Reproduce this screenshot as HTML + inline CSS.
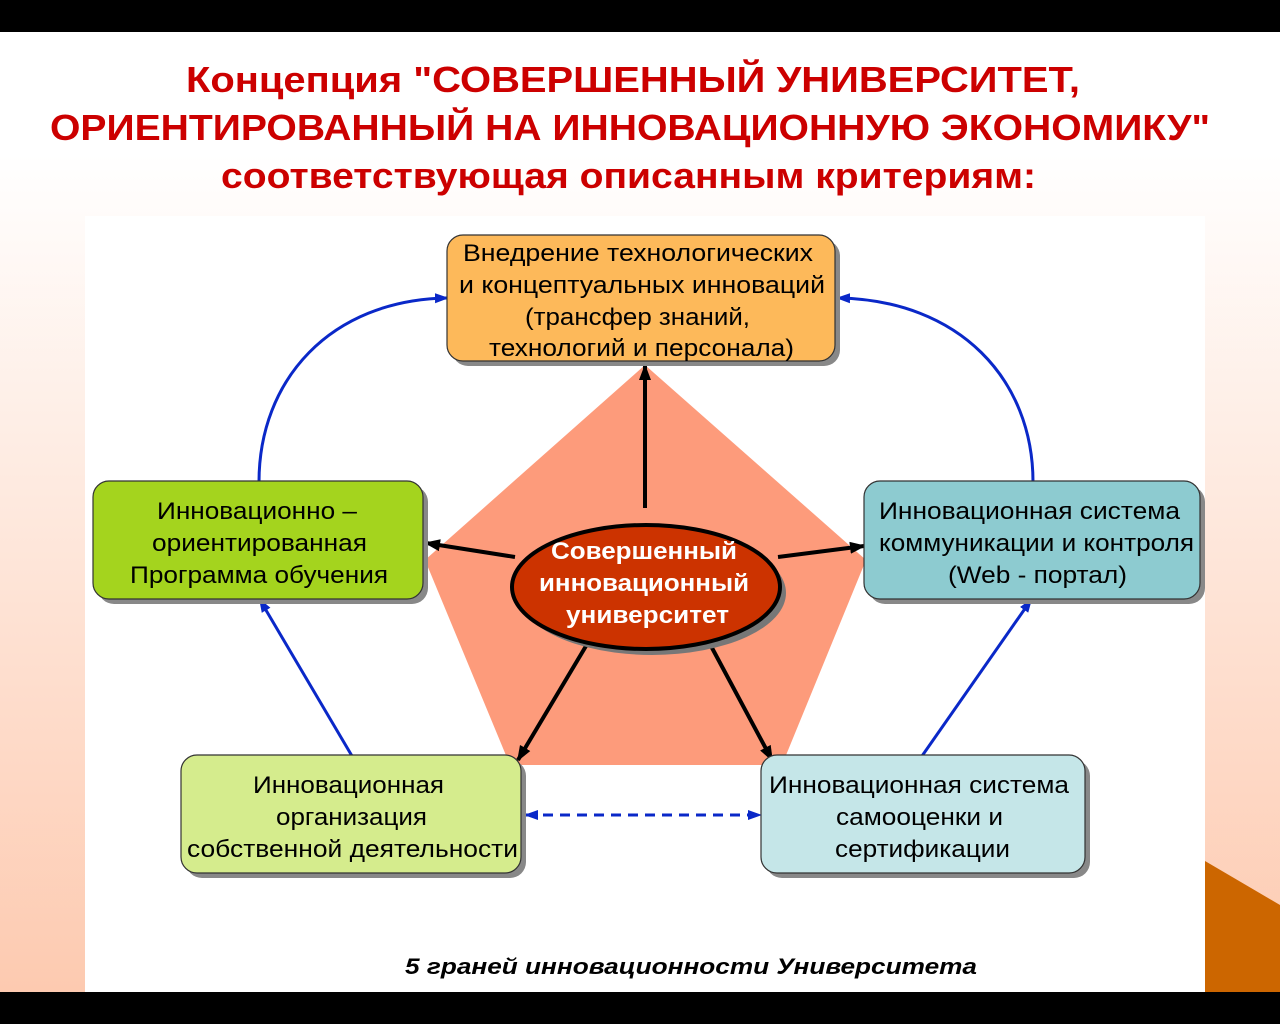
<!DOCTYPE html>
<html><head><meta charset="utf-8"><style>
body{margin:0;width:1280px;height:1024px;overflow:hidden;font-family:"Liberation Sans",sans-serif}
</style></head><body>
<svg width="1280" height="1024" xmlns="http://www.w3.org/2000/svg" style="display:block">
<defs>
<linearGradient id="bg" x1="0" y1="0" x2="0" y2="1"><stop offset="0" stop-color="#ffffff"/><stop offset="0.15" stop-color="#ffffff"/><stop offset="1" stop-color="#fdc8ad"/></linearGradient>
<marker id="ab" markerWidth="16" markerHeight="14" refX="14" refY="7" orient="auto" markerUnits="userSpaceOnUse"><path d="M0,1 L16,7 L0,13 Z" fill="#000"/></marker>
<marker id="au" markerWidth="14" markerHeight="12" refX="12" refY="6" orient="auto" markerUnits="userSpaceOnUse"><path d="M0,1 L14,6 L0,11 Z" fill="#0a28c8"/></marker>
<marker id="aus" markerWidth="14" markerHeight="12" refX="2" refY="6" orient="auto" markerUnits="userSpaceOnUse"><path d="M14,1 L0,6 L14,11 Z" fill="#0a28c8"/></marker>
</defs>
<rect width="1280" height="1024" fill="url(#bg)"/>
<rect x="0" y="0" width="1280" height="32" fill="#000"/>
<rect x="0" y="992" width="1280" height="32" fill="#000"/>
<rect x="85" y="216" width="1120" height="776" fill="#fff"/>
<polygon points="1205,861 1280,905 1280,992 1205,992" fill="#cc6600"/>
<g font-weight="bold" fill="#cc0000" font-size="36" lengthAdjust="spacingAndGlyphs">
<text x="186" y="92" textLength="894" lengthAdjust="spacingAndGlyphs">Концепция "СОВЕРШЕННЫЙ УНИВЕРСИТЕТ,</text>
<text x="50" y="140" textLength="1160" lengthAdjust="spacingAndGlyphs">ОРИЕНТИРОВАННЫЙ НА ИННОВАЦИОННУЮ ЭКОНОМИКУ"</text>
<text x="221" y="188" textLength="815" lengthAdjust="spacingAndGlyphs">соответствующая описанным критериям:</text>
</g>
<polygon points="645,365 866,560 782,765 510,765 425,560" fill="#fd9b7b"/>
<g stroke="#000" stroke-width="4" fill="none">
<line x1="645" y1="508" x2="645" y2="366" marker-end="url(#ab)"/>
<line x1="515" y1="557" x2="426" y2="543" marker-end="url(#ab)"/>
<line x1="778" y1="557" x2="864" y2="546" marker-end="url(#ab)"/>
<line x1="586" y1="646" x2="518" y2="760" marker-end="url(#ab)"/>
<line x1="711" y1="646" x2="772" y2="760" marker-end="url(#ab)"/>
</g>
<ellipse cx="652" cy="593" rx="134" ry="62" fill="#777"/>
<ellipse cx="646" cy="587" rx="134" ry="62" fill="#cc3300" stroke="#000" stroke-width="4"/>
<g font-weight="bold" fill="#fff" font-size="24">
<text x="551" y="559" textLength="186" lengthAdjust="spacingAndGlyphs">Совершенный</text>
<text x="539" y="591" textLength="210" lengthAdjust="spacingAndGlyphs">инновационный</text>
<text x="566" y="623" textLength="163" lengthAdjust="spacingAndGlyphs">университет</text>
</g>
<g stroke="#0a28c8" stroke-width="3" fill="none">
<path d="M259,482 C259,380 330,300 447,298" marker-end="url(#au)"/>
<path d="M1033,482 C1033,380 960,300 838,298" marker-end="url(#au)"/>
<line x1="352" y1="756" x2="260" y2="600" marker-end="url(#au)"/>
<line x1="922" y1="756" x2="1031" y2="600" marker-end="url(#au)"/>
<line x1="526" y1="815" x2="760" y2="815" stroke-dasharray="10,7" marker-start="url(#aus)" marker-end="url(#au)"/>
</g>
<g stroke="#333" stroke-width="1.2">
<rect x="452" y="240" width="388" height="126" rx="16" fill="#888" stroke="none"/>
<rect x="447" y="235" width="388" height="126" rx="16" fill="#fdb95a"/>
<rect x="98" y="486" width="330" height="118" rx="16" fill="#888" stroke="none"/>
<rect x="93" y="481" width="330" height="118" rx="16" fill="#a4d41e"/>
<rect x="869" y="486" width="336" height="118" rx="16" fill="#888" stroke="none"/>
<rect x="864" y="481" width="336" height="118" rx="16" fill="#8dcbd0"/>
<rect x="186" y="760" width="340" height="118" rx="16" fill="#888" stroke="none"/>
<rect x="181" y="755" width="340" height="118" rx="16" fill="#d5ec8d"/>
<rect x="766" y="760" width="324" height="118" rx="16" fill="#888" stroke="none"/>
<rect x="761" y="755" width="324" height="118" rx="16" fill="#c5e6e8"/>
</g>
<g font-size="24" fill="#000">
<text x="463" y="261" textLength="350" lengthAdjust="spacingAndGlyphs">Внедрение  технологических</text>
<text x="459" y="293" textLength="366" lengthAdjust="spacingAndGlyphs">и  концептуальных инноваций</text>
<text x="525" y="325" textLength="225" lengthAdjust="spacingAndGlyphs">(трансфер знаний,</text>
<text x="489" y="356" textLength="305" lengthAdjust="spacingAndGlyphs">технологий и персонала)</text>
<text x="157" y="519" textLength="200" lengthAdjust="spacingAndGlyphs">Инновационно –</text>
<text x="152" y="551" textLength="215" lengthAdjust="spacingAndGlyphs">ориентированная</text>
<text x="130" y="583" textLength="258" lengthAdjust="spacingAndGlyphs">Программа обучения</text>
<text x="879" y="519" textLength="301" lengthAdjust="spacingAndGlyphs">Инновационная система</text>
<text x="879" y="551" textLength="315" lengthAdjust="spacingAndGlyphs">коммуникации и контроля</text>
<text x="948" y="583" textLength="179" lengthAdjust="spacingAndGlyphs">(Web - портал)</text>
<text x="253" y="793" textLength="191" lengthAdjust="spacingAndGlyphs">Инновационная</text>
<text x="276" y="825" textLength="151" lengthAdjust="spacingAndGlyphs">организация</text>
<text x="187" y="857" textLength="331" lengthAdjust="spacingAndGlyphs">собственной деятельности</text>
<text x="769" y="793" textLength="300" lengthAdjust="spacingAndGlyphs">Инновационная система</text>
<text x="836" y="825" textLength="167" lengthAdjust="spacingAndGlyphs">самооценки и</text>
<text x="835" y="857" textLength="175" lengthAdjust="spacingAndGlyphs">сертификации</text>
</g>
<text x="405" y="974" font-size="22" font-weight="bold" font-style="italic" textLength="572" lengthAdjust="spacingAndGlyphs">5 граней инновационности Университета</text>
</svg>
</body></html>
